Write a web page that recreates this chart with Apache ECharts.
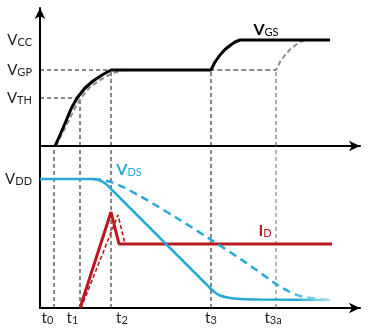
<!DOCTYPE html>
<html><head><meta charset="utf-8">
<script src="https://cdn.jsdelivr.net/npm/echarts@6/dist/echarts.min.js"></script>
<style>html,body{margin:0;padding:0;background:#fff}#c{width:370px;height:328px}</style>
</head><body><div id="c"></div>
<script>
// ---- data (time in arbitrary units, voltages/currents in arbitrary units) ----
const tSubs = ['0', '1', '2', '3', '3a'];
const tValues = [2.8, 8, 14.2, 34.2, 47.2];
const gateSubs = ['CC', 'GP', 'TH'];
const gateLevels = [10.6, 7.6, 4.8];
const drainSubs = ['DD'];
const drainLevels = [12.9];
const vgsActual = [[3,0],[4,1.1],[5.2,2.5],[6.2,3.7],[7.4,4.8],[9,5.8],[10.6,6.5],[12.4,7.1],[14.2,7.6],[34.2,7.6],[35,8.4],[36,9.1],[37,9.65],[38,10.05],[39,10.4],[40,10.6],[58,10.6]];
const vgsAlt = [[3.2,0],[4.4,1.2],[5.6,2.4],[6.8,3.6],[8,4.7],[10,5.9],[12,6.6],[14.2,7.2],[16.6,7.6],[47.2,7.6],[48,8.4],[49,9.1],[50,9.65],[51,10.05],[52,10.4],[53,10.6]];
const vdsActual = [[0,12.9],[10.6,12.9],[12,12.75],[13.2,12.4],[14.2,11.9],[16,11],[32,3],[33,2.5],[34,2],[35,1.55],[36,1.25],[38,1],[40,0.9],[44,0.85],[58,0.8]];
const vdsAlt = [[10.6,12.9],[12,12.85],[14.2,12.6],[17,12],[21.4,10.8],[28,8.8],[34.6,6.7],[41,4.6],[47.2,2.4],[50,1.6],[52,1.2],[55,0.95],[58,0.8]];
const idActual = [[8,0],[14.2,9.6],[15.8,6.4],[58.4,6.4]];
const idAlt = [[8.2,0],[15.6,9.3],[17,6.4]];
const seriesNames = ['V|GS', 'V|DS', 'I|D'];
const nameAnchors = [[45.2,11.6],[17.8,13.8],[45,7.7]];

// ---- styles / layout ----
const FONT = 'Lato, "Liberation Sans", sans-serif';
const TXT = '#1e1e1e';
const CYAN = '#27a9d6';
const RED = '#b81820';
const GRAY = '#8a8a8a';
const tLabelShift = [-6.5, -7.5, 11, 0, -3];
const TOP_MAX = 13.8, BOT_MAX = 16.2, X_MAX = 64;

function fade(color, start) {
  return new echarts.graphic.LinearGradient(0, 0, 1, 0, [
    {offset: 0, color: color}, {offset: start, color: color}, {offset: 1, color: '#bfe6f4'}]);
}

const tRich = {};
tSubs.forEach((s, i) => {
  const dx = tLabelShift[i];
  tRich['t' + i] = {fontSize: 15, fontFamily: FONT, color: TXT, verticalAlign: 'bottom', padding: [0, 0, 0, dx > 0 ? 2 * dx : 0]};
  tRich['s' + i] = {fontSize: 11, fontFamily: FONT, color: TXT, verticalAlign: 'bottom', padding: [0, dx < 0 ? -2 * dx : 0, 0, 0]};
});
const vRich = {
  v: {fontSize: 15, fontFamily: FONT, color: TXT, verticalAlign: 'bottom'},
  s: {fontSize: 11, fontFamily: FONT, color: TXT, verticalAlign: 'bottom'}
};

function axisLineStyle(arrow) {
  return {show: true, onZero: true, symbol: arrow ? ['none', 'arrow'] : 'none', symbolSize: [8, 11],
    lineStyle: {color: '#000', width: 2}};
}
function xAxis(gi, withLabels) {
  return {gridIndex: gi, type: 'value', min: 0, max: X_MAX, axisLine: axisLineStyle(true),
    axisTick: {show: false}, splitLine: {show: false},
    axisLabel: withLabels ? {show: true, customValues: tValues, margin: 3,
      formatter: v => { const i = tValues.indexOf(v); return '{t' + i + '|t}{s' + i + '|' + tSubs[i] + '}'; },
      rich: tRich} : {show: false}};
}
function yAxis(gi, max, arrow, vals, subs) {
  return {gridIndex: gi, type: 'value', min: 0, max: max, axisLine: axisLineStyle(arrow),
    axisTick: {show: false}, splitLine: {show: false},
    axisLabel: {show: true, customValues: vals, margin: 8,
      formatter: v => '{v|V}{s|' + subs[vals.indexOf(v)] + '}', rich: vRich}};
}
function guide(gi, pts, color) {
  return {type: 'line', xAxisIndex: gi, yAxisIndex: gi, data: pts, showSymbol: false, silent: true,
    animation: false, z: 1, lineStyle: {color: color || '#111', width: 1, type: [4, 3]}};
}
function curve(gi, data, color, width, type, smooth, z) {
  return {type: 'line', xAxisIndex: gi, yAxisIndex: gi, data: data, showSymbol: false, silent: true,
    animation: false, smooth: smooth || false, z: z || 2, lineStyle: {color: color, width: width, type: type || 'solid'}};
}
function nameLabel(series, idx, color) {
  const parts = seriesNames[idx].split('|');
  series.markPoint = {silent: true, symbol: 'circle', symbolSize: 0, animation: false,
    data: [{coord: nameAnchors[idx], value: 0}],
    label: {show: true, position: 'inside', formatter: '{b|' + parts[0] + '}{s|' + parts[1] + '}',
      rich: {b: {fontSize: 16, fontWeight: 'bold', fontFamily: FONT, color: color, verticalAlign: 'bottom'},
             s: {fontSize: 11, fontFamily: FONT, color: color, verticalAlign: 'bottom'}}}};
  return series;
}

const series = [];
// top panel guides
series.push(guide(0, [[0, gateLevels[1]], [tValues[2], gateLevels[1]]]));
series.push(guide(0, [[0, gateLevels[2]], [tValues[1], gateLevels[2]]]));
series.push(guide(0, [[tValues[1], 0], [tValues[1], gateLevels[2]]]));
series.push(guide(0, [[tValues[2], 0], [tValues[2], gateLevels[1]]]));
series.push(guide(0, [[tValues[3], 0], [tValues[3], gateLevels[1]]]));
series.push(guide(0, [[tValues[4], 0], [tValues[4], gateLevels[1]]], '#555'));
// bottom panel guides
tValues.forEach((t, i) => series.push(guide(1, [[t, 0], [t, BOT_MAX]], i === 4 ? '#5d6d68' : '#111')));
// curves
series.push(curve(0, vgsAlt, GRAY, 2, [5, 3], false, 3));
series.push(nameLabel(curve(0, vgsActual, '#000', 3, 'solid', false, 4), 0, '#000'));
series.push(curve(1, idAlt, RED, 1.6, [4, 2.5], false, 3));
series.push(nameLabel(curve(1, idActual, RED, 3, 'solid', false, 3), 2, RED));
series.push(curve(1, vdsAlt, fade(CYAN, 0.8), 2.5, [8, 5], 0.2, 4));
series.push(nameLabel(curve(1, vdsActual, fade(CYAN, 0.88), 2.5, 'solid', 0.2, 5), 1, CYAN));

const option = {
  backgroundColor: '#fff',
  animation: false,
  grid: [
    {left: 40, right: 10, top: 8, height: 138},
    {left: 40, right: 10, top: 146, height: 162}
  ],
  xAxis: [xAxis(0, false), xAxis(1, true)],
  yAxis: [yAxis(0, TOP_MAX, true, gateLevels, gateSubs), yAxis(1, BOT_MAX, false, drainLevels, drainSubs)],
  series: series
};
const chart = echarts.init(document.getElementById('c'), null, {renderer: 'canvas'});
chart.setOption(option);
</script>
</body></html>
